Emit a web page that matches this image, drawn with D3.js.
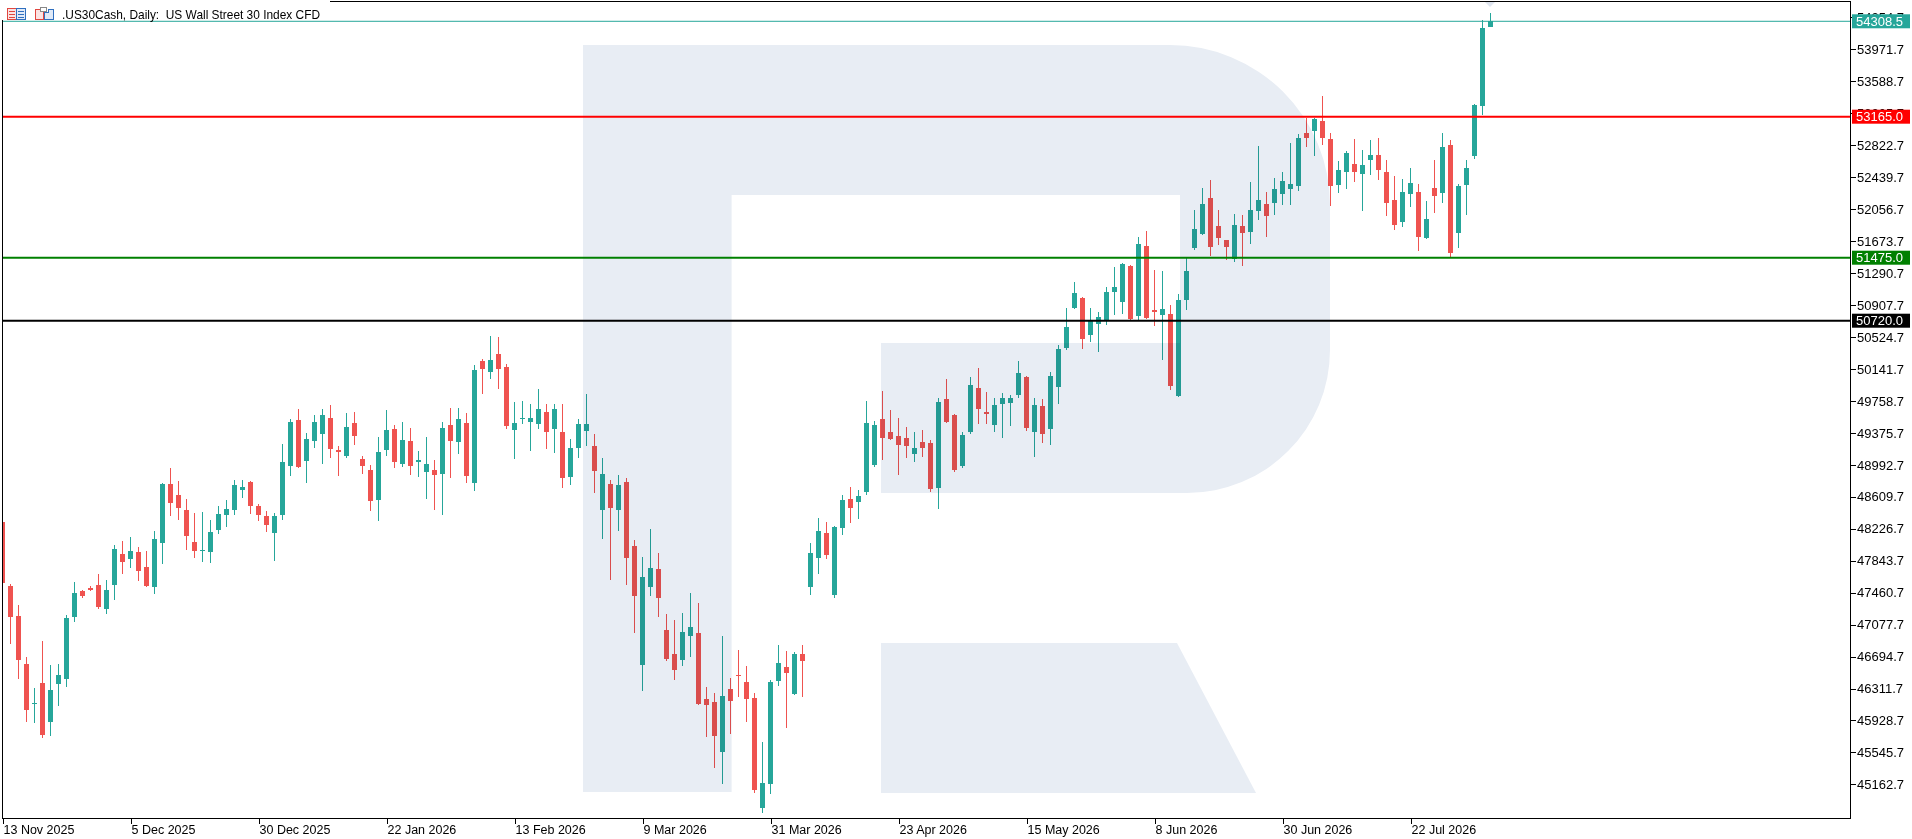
<!DOCTYPE html>
<html>
<head>
<meta charset="utf-8">
<script src="https://cdn.jsdelivr.net/npm/d3@7/dist/d3.min.js"></script>
<style>
html,body{margin:0;padding:0;background:#fff;overflow:hidden}
svg{display:block}
text{font-family:"Liberation Sans",Arial,sans-serif}
</style>
</head>
<body>
<svg id="chart" width="1912" height="839"></svg>
<script>
var openP=[48307,47540,47181,46605,46130,46378,45914,46370,46430,47173,47480,47520,47552,47269,47552,47924,47868,47948,47768,47532,
48060,48763,48631,48451,48068,47968,47952,48216,48395,48455,48695,48787,48499,48379,48180,48395,48983,49530,49042,49282,
49366,49554,49170,49102,49494,49062,48931,48575,49174,49422,49007,49278,49034,48911,48931,48887,49470,49270,49494,48779,
50237,50109,50321,50165,49414,49546,49506,49486,49626,49426,49386,48851,49198,49402,49218,48455,48763,48455,48787,48020,
46598,47532,47744,47013,46725,46658,46945,46977,46186,46150,45555,46306,46474,46390,46198,44884,45171,46406,46570,46250,
46725,47528,47876,48176,47433,48235,48583,48547,48667,48991,49542,49386,49338,49314,49122,49266,49254,48715,49782,49590,
48979,49386,49913,49626,49470,49722,49733,49829,50045,49386,49698,49422,49925,50393,50872,50992,50549,50680,50728,51064,
50944,51375,50776,51615,50848,50788,50800,49817,50968,51595,51763,52190,51855,51687,51463,51855,51787,52039,52119,52135,
52242,52302,52338,52970,52998,53113,52898,52350,52506,52598,52482,52650,52706,52502,52167,51907,52242,52262,51715,52310,
52254,52826,51775,52350,52698,53297,54244];
var highP=[48330,47564,47313,46689,46318,46881,46594,46606,47193,47588,47492,47540,47684,47612,48032,48080,48128,48008,47960,48200,
48775,48955,48799,48583,48415,48427,48331,48499,48571,48811,48811,48803,48523,48439,48415,49242,49542,49662,49374,49590,
49662,49710,49218,49614,49626,49098,48991,49326,49650,49470,49506,49434,49158,49326,49050,49506,49674,49674,49614,50189,
50261,50537,50525,50200,49746,49758,49722,49901,49722,49722,49722,49302,49542,49842,49362,49074,48811,48871,48835,48092,
47888,48224,47936,47205,47133,47217,47456,47337,46330,46258,46941,46438,46773,46582,46258,45671,46414,46833,46761,46749,
46833,48056,48355,48307,48259,48631,48727,48691,49758,49518,49877,49650,49554,49446,49386,49410,49290,49794,50021,49602,
49386,50045,50153,49866,49794,49853,49829,50237,50057,49793,49781,50105,50429,50872,51184,51000,50872,50824,51124,51363,
51411,51387,51723,51795,51328,51316,50908,51040,51471,52047,52310,52406,52047,51687,51999,51987,52382,52814,52262,52430,
52502,52850,52958,53149,53149,53413,52970,52634,52754,52898,52766,52886,52910,52646,52454,52418,52550,52358,52155,52646,
52970,52886,52358,52646,53313,54324,54408];
var lowP=[47560,46849,46426,45914,45898,45723,45743,46102,46330,47113,47393,47484,47269,47209,47377,47684,47756,47604,47532,47448,
47808,48383,48335,47976,47880,47832,47820,48168,48251,48395,48599,48407,48323,48192,47844,48335,48863,48960,48779,49198,
49007,49078,48863,49078,49230,48887,48443,48323,49102,48959,48971,48875,48851,48587,48455,48395,48839,49126,48779,48683,
49845,50025,49905,49425,49067,49486,49162,49426,49186,49138,48719,48755,49078,49222,48659,48108,47616,48204,47556,46981,
46286,47425,47173,46646,46418,46586,46693,46118,45735,45363,45171,45771,46214,45915,45063,44824,45052,46346,45842,46238,
46214,47432,47684,47864,47397,48152,48295,48343,48631,48967,49050,49290,48871,49074,49026,49086,48667,48463,49494,48907,
48955,49362,49482,49482,49386,49314,49458,49793,49398,49086,49254,49230,49722,50369,50860,50381,50465,50345,50668,50788,
50800,50716,50716,50740,50656,50249,49889,49800,50848,51571,51751,51499,51631,51451,51427,51379,51643,51931,51727,51991,
52111,52111,52278,52802,52694,52826,52099,52254,52302,52386,52039,52470,52410,51979,51811,51847,52087,51559,51703,52015,
52135,51487,51595,51991,52662,53185,54240];
var closeP=[47580,47173,46653,46058,46140,45755,46294,46474,47157,47457,47425,47496,47293,47492,47984,47832,47960,47724,47540,48104,
48763,48539,48479,48144,47964,47976,48188,48403,48463,48751,48727,48503,48395,48275,48379,49027,49506,48971,49302,49506,
49590,49186,49150,49446,49342,48982,48563,49146,49410,49031,49290,48982,49046,49003,48875,49434,49282,49542,48863,50129,
50145,50249,50145,49462,49494,49554,49554,49662,49390,49662,48839,49194,49482,49482,48923,48883,48479,48751,47880,47425,
47648,47756,47401,46670,46538,46989,47049,46130,46118,45747,46222,46166,46458,46190,45099,45175,46390,46617,46502,46725,
46646,47936,48200,47912,48247,48571,48475,48619,49494,49470,49314,49302,49230,49218,49194,49194,48703,49746,49506,48931,
49350,49949,49662,49606,49710,49794,49793,50093,49434,49709,49362,50057,50381,50644,51052,50501,50716,50764,51064,51124,
51399,50740,51639,50752,50828,50860,49937,50968,51316,51819,52119,51607,51715,51607,51867,51775,52047,52167,51979,52298,
52394,52358,52910,52910,53137,52914,52338,52526,52730,52506,52586,52706,52530,52135,51871,52262,52370,51727,51935,52219,
52802,51535,52334,52550,53305,54228,54308.5];

var dateLabels=["13 Nov 2025","5 Dec 2025","30 Dec 2025","22 Jan 2026","13 Feb 2026","9 Mar 2026","31 Mar 2026","23 Apr 2026","15 May 2026","8 Jun 2026","30 Jun 2026","22 Jul 2026"];
var dateBars=[0,16,32,48,64,80,96,112,128,144,160,176];
var priceTicks=[45162.7,45545.7,45928.7,46311.7,46694.7,47077.7,47460.7,47843.7,48226.7,48609.7,48992.7,49375.7,49758.7,50141.7,50524.7,50907.7,51290.7,51673.7,52056.7,52439.7,52822.7,53205.7,53588.7,53971.7,54354.7];
var levelValues=[53165.0,51475.0,50720.0];
var levelColors=["#ff0000","#008000","#000000"];
var lastPrice=54308.5;
var title=".US30Cash, Daily:  US Wall Street 30 Index CFD";

var plotR=1850,plotB=818,up="#26a69a",down="#ef5350";
var svg=d3.select("#chart");
var x=d3.scaleLinear().domain([0,186]).range([2.5,1490.5]);
var y=d3.scaleLinear().domain([44759.9,54563.6]).range([plotB,0]);
var bars=openP.map(function(o,i){return {i:i,o:o,h:highP[i],l:lowP[i],c:closeP[i]};});

svg.append("rect").attr("width",1912).attr("height",839).attr("fill","#fff");
svg.append("defs").append("clipPath").attr("id","plotclip")
    .append("rect").attr("x",2.5).attr("y",0).attr("width",plotR-2.5).attr("height",plotB);

var candles=svg.append("g").attr("clip-path","url(#plotclip)").attr("shape-rendering","crispEdges");
var cg=candles.selectAll(".bar").data(bars).enter().append("g").attr("class","bar");
cg.append("rect")
    .attr("x",function(d){return x(d.i)-0.5;})
    .attr("width",1)
    .attr("y",function(d){return y(d.h);})
    .attr("height",function(d){return Math.max(1,y(d.l)-y(d.h));})
    .attr("fill",function(d){return d.c>=d.o?up:down;});
cg.append("rect")
    .attr("x",function(d){return x(d.i)-2.5;})
    .attr("width",5)
    .attr("y",function(d){return y(Math.max(d.o,d.c));})
    .attr("height",function(d){return Math.max(1.5,Math.abs(y(d.o)-y(d.c)));})
    .attr("fill",function(d){return d.c>=d.o?up:down;});

// watermark logo, multiplied over the candles
var wm=svg.append("g").attr("fill","#e8edf4").style("mix-blend-mode","multiply");
wm.append("path").attr("d","M583,45 L1170,45 A160,160 0 0 1 1330,205 L1330,350 A143,143 0 0 1 1187,493 L881,493 L881,343 L1180,343 L1180,195 L731.6,195 L731.6,792 L583,792 Z");
wm.append("path").attr("d","M881,643 L1177,643 L1256,793 L881,793 Z");
svg.append("path").attr("d","M1484,1 L1496,1 L1490,7 Z").attr("fill","#dfe5ef");

svg.append("line").attr("x1",2).attr("x2",plotR).attr("y1",y(lastPrice)).attr("y2",y(lastPrice))
    .attr("stroke",up).attr("stroke-width",1);
svg.selectAll(".level").data(levelValues).enter().append("line").attr("class","level")
    .attr("x1",2).attr("x2",plotR)
    .attr("y1",function(d){return y(d);}).attr("y2",function(d){return y(d);})
    .attr("stroke",function(d,i){return levelColors[i];}).attr("stroke-width",2);

// frame
var frame=svg.append("g").attr("stroke","#000").attr("stroke-width",1).attr("shape-rendering","crispEdges");
frame.append("line").attr("x1",2.5).attr("x2",2.5).attr("y1",0).attr("y2",plotB);
frame.append("line").attr("x1",0).attr("x2",plotR).attr("y1",1.5).attr("y2",1.5);
frame.append("line").attr("x1",plotR+0.5).attr("x2",plotR+0.5).attr("y1",1).attr("y2",plotB+0.5);
frame.append("line").attr("x1",2).attr("x2",plotR+1).attr("y1",plotB+0.5).attr("y2",plotB+0.5);

// price axis
var pa=svg.append("g");
pa.selectAll(".pt").data(priceTicks).enter().append("line")
    .attr("x1",plotR+1).attr("x2",plotR+6)
    .attr("y1",function(d){return Math.round(y(d))+0.5;}).attr("y2",function(d){return Math.round(y(d))+0.5;})
    .attr("stroke","#000").attr("shape-rendering","crispEdges");
pa.selectAll(".pl").data(priceTicks).enter().append("text")
    .attr("x",plotR+7).attr("y",function(d){return y(d);})
    .attr("dy","0.36em").attr("font-size",13).attr("fill","#000")
    .text(function(d){return d.toFixed(1);});

var marks=levelValues.map(function(v,i){return {v:v,c:levelColors[i]};});
marks.unshift({v:lastPrice,c:up});
var mk=pa.selectAll(".mk").data(marks).enter().append("g");
mk.append("rect").attr("x",plotR+2).attr("width",58).attr("y",function(d){return y(d.v)-7;}).attr("height",14)
    .attr("fill",function(d){return d.c;});
mk.append("text").attr("x",plotR+6).attr("y",function(d){return y(d.v);}).attr("dy","0.36em")
    .attr("font-size",13).attr("fill","#fff").text(function(d){return d.v.toFixed(1);});

// time axis
var ta=svg.append("g");
ta.selectAll(".tt").data(dateBars).enter().append("line")
    .attr("x1",function(d){return Math.round(x(d))+0.5;}).attr("x2",function(d){return Math.round(x(d))+0.5;})
    .attr("y1",plotB).attr("y2",plotB+6).attr("stroke","#000").attr("shape-rendering","crispEdges");
ta.selectAll(".tl").data(dateBars).enter().append("text")
    .attr("x",function(d){return x(d)+1;}).attr("y",834)
    .attr("font-size",12.5).attr("fill","#000")
    .text(function(d,i){return dateLabels[i];});

// title
svg.append("rect").attr("x",0).attr("y",0).attr("width",330).attr("height",20).attr("fill","#fff");
var ic=svg.append("g").attr("shape-rendering","crispEdges");
ic.append("rect").attr("x",7.5).attr("y",8.5).attr("width",9).attr("height",11).attr("fill","#fbe3e3").attr("stroke","#e0463f");
ic.append("rect").attr("x",16.5).attr("y",8.5).attr("width",9).attr("height",11).attr("fill","#dfe9f7").attr("stroke","#2f6fbf");
[11.5,14.5,17.5].forEach(function(v){
    ic.append("line").attr("x1",9).attr("x2",15).attr("y1",v).attr("y2",v).attr("stroke","#e0463f");
    ic.append("line").attr("x1",18).attr("x2",24).attr("y1",v).attr("y2",v).attr("stroke","#2f6fbf");
});
ic.append("path").attr("d","M35.5,19.5 L35.5,9.5 L43.5,9.5 L43.5,19.5 Z").attr("fill","#fbe3e3").attr("stroke","#e0463f");
ic.append("path").attr("d","M44.5,19.5 L44.5,12.5 L48.5,12.5 L48.5,9.5 L53.5,9.5 L53.5,19.5 Z").attr("fill","#dfe9f7").attr("stroke","#2f6fbf");
ic.append("rect").attr("x",40.5).attr("y",7.5).attr("width",6).attr("height",4).attr("fill","#fff").attr("stroke","#888");
svg.append("text").attr("x",62).attr("y",18.5).attr("font-size",13).attr("fill","#000")
    .attr("textLength",258).attr("lengthAdjust","spacingAndGlyphs")
    .style("white-space","pre").text(title);
</script>
</body>
</html>
